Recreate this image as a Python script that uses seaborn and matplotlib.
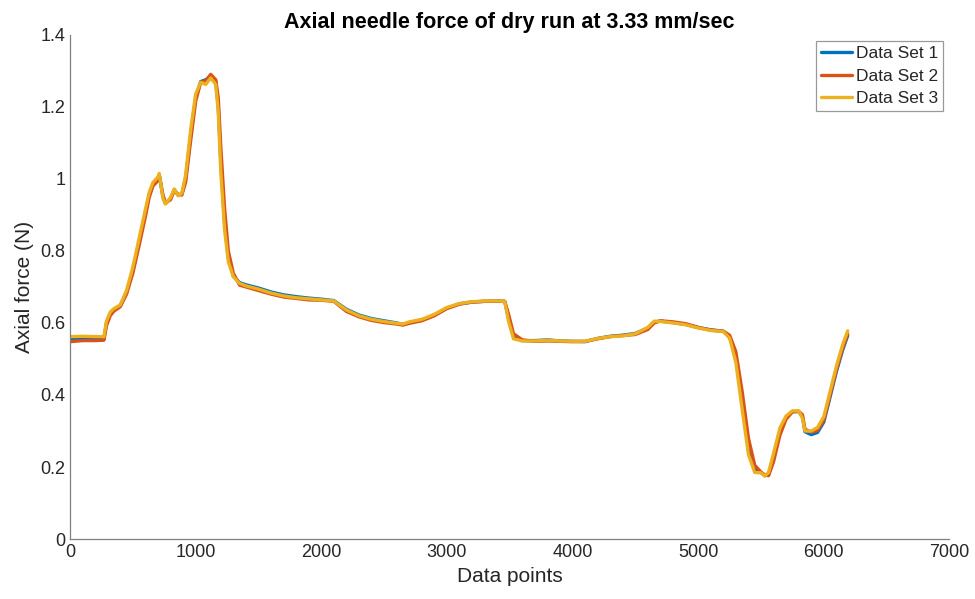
import pandas as pd
import numpy as np
import matplotlib.pyplot as plt
import seaborn as sns
from matplotlib.ticker import FuncFormatter

# Values
data_points = [0, 100, 200, 270, 290, 320, 350, 400, 450, 500, 550, 600, 630, 660, 700, 710,
               740, 760, 800, 830, 860, 890, 920, 960, 1000, 1040, 1080, 1120, 1160, 1180,
               1200, 1230, 1260, 1300, 1350, 1400, 1500, 1600, 1700, 1800, 1900, 2000, 2100,
               2200, 2300, 2400, 2500, 2600, 2650, 2700, 2800, 2900, 3000, 3100, 3200, 3300,
               3400, 3460, 3490, 3530, 3600, 3700, 3800, 3900, 4000, 4100, 4200, 4300, 4400,
               4500, 4600, 4650, 4700, 4800, 4900, 5000, 5100, 5200, 5250, 5300, 5350, 5400,
               5450, 5500, 5530, 5560, 5600, 5650, 5700, 5750, 5800, 5830, 5850, 5900, 5950,
               6000, 6050, 6100, 6150, 6190]

set1 = [0.555, 0.556, 0.555, 0.556, 0.600, 0.625, 0.637, 0.648, 0.685, 0.745, 0.825, 0.905,
        0.955, 0.985, 1.000, 1.012, 0.950, 0.932, 0.945, 0.970, 0.955, 0.958, 1.000, 1.120,
        1.225, 1.270, 1.275, 1.285, 1.270, 1.200, 1.050, 0.880, 0.780, 0.730, 0.712, 0.706,
        0.697, 0.686, 0.678, 0.673, 0.669, 0.666, 0.662, 0.638, 0.622, 0.612, 0.606, 0.600,
        0.596, 0.601, 0.608, 0.622, 0.641, 0.653, 0.658, 0.660, 0.661, 0.660, 0.615, 0.562,
        0.551, 0.551, 0.553, 0.550, 0.549, 0.548, 0.557, 0.563, 0.566, 0.571, 0.586, 0.603,
        0.605, 0.601, 0.596, 0.587, 0.581, 0.577, 0.562, 0.505, 0.385, 0.255, 0.192, 0.185,
        0.176, 0.180, 0.228, 0.298, 0.338, 0.354, 0.354, 0.340, 0.298, 0.290, 0.296, 0.325,
        0.395, 0.465, 0.525, 0.565]

set2 = [0.548, 0.551, 0.551, 0.552, 0.592, 0.620, 0.633, 0.645, 0.680, 0.738, 0.815, 0.895,
        0.948, 0.980, 0.995, 1.010, 0.955, 0.933, 0.942, 0.968, 0.957, 0.955, 0.990, 1.105,
        1.215, 1.268, 1.272, 1.290, 1.275, 1.225, 1.090, 0.920, 0.800, 0.738, 0.705, 0.700,
        0.690, 0.680, 0.672, 0.668, 0.664, 0.663, 0.660, 0.632, 0.617, 0.607, 0.601, 0.597,
        0.594, 0.599, 0.606, 0.620, 0.640, 0.652, 0.658, 0.660, 0.660, 0.660, 0.625, 0.570,
        0.553, 0.549, 0.550, 0.549, 0.548, 0.549, 0.556, 0.562, 0.565, 0.568, 0.582, 0.600,
        0.606, 0.603, 0.598, 0.588, 0.580, 0.577, 0.566, 0.520, 0.410, 0.280, 0.205, 0.186,
        0.178, 0.176, 0.215, 0.288, 0.333, 0.353, 0.355, 0.345, 0.305, 0.297, 0.302, 0.330,
        0.400, 0.470, 0.530, 0.570]

set3 = [0.562, 0.563, 0.562, 0.562, 0.605, 0.630, 0.640, 0.650, 0.690, 0.755, 0.835, 0.915,
        0.962, 0.990, 1.005, 1.015, 0.945, 0.930, 0.948, 0.972, 0.953, 0.960, 1.010, 1.135,
        1.235, 1.268, 1.262, 1.280, 1.262, 1.185, 1.020, 0.860, 0.770, 0.728, 0.710, 0.703,
        0.694, 0.683, 0.675, 0.670, 0.667, 0.664, 0.661, 0.636, 0.620, 0.610, 0.604, 0.599,
        0.597, 0.603, 0.610, 0.624, 0.643, 0.654, 0.659, 0.661, 0.661, 0.660, 0.605, 0.556,
        0.550, 0.550, 0.552, 0.550, 0.549, 0.549, 0.557, 0.562, 0.564, 0.570, 0.588, 0.605,
        0.604, 0.600, 0.595, 0.586, 0.579, 0.576, 0.558, 0.490, 0.360, 0.235, 0.185, 0.184,
        0.175, 0.185, 0.238, 0.308, 0.342, 0.356, 0.356, 0.335, 0.300, 0.300, 0.310, 0.340,
        0.410, 0.480, 0.540, 0.578]

set_names = ['Data Set 1', 'Data Set 2', 'Data Set 3']
colors = ['#0072BD', '#D95319', '#EDB120']

df = pd.concat([
    pd.DataFrame({'Data points': data_points, 'Axial force': vals, 'set': name})
    for name, vals in zip(set_names, [set1, set2, set3])
], ignore_index=True)

sns.set_theme(style="white")
plt.rcParams['font.family'] = ['Liberation Sans', 'DejaVu Sans']

fig = plt.figure(figsize=(9.75, 5.99), dpi=100)
ax = fig.add_axes([0.0718, 0.100, 0.902, 0.842])

sns.lineplot(data=df, x='Data points', y='Axial force', hue='set', palette=colors,
             linewidth=2.4, ax=ax, sort=False, estimator=None)

ax.set_xlim(0, 7000)
ax.set_ylim(0, 1.4)
ax.set_xticks(np.arange(0, 7001, 1000))
ax.set_yticks(np.arange(0, 1.41, 0.2))
ax.yaxis.set_major_formatter(FuncFormatter(lambda v, p: f'{v:g}'))

ax.set_xlabel('Data points', fontsize=15, color='#262626')
ax.set_ylabel('Axial force (N)', fontsize=15, color='#262626')
ax.set_title('Axial needle force of dry run at 3.33 mm/sec', fontsize=15.5,
             fontweight='bold', color='black', pad=5)

sns.despine(ax=ax)
for side in ['left', 'bottom']:
    ax.spines[side].set_color('#808080')
    ax.spines[side].set_linewidth(0.9)
ax.tick_params(direction='in', length=5, width=0.9, color='#808080', labelcolor='#262626',
               labelsize=13)

leg = ax.legend(loc='upper right', fontsize=12.5, frameon=True, fancybox=False,
                edgecolor='#808080', borderaxespad=0.35, handlelength=1.8,
                handletextpad=0.2, labelspacing=0.42, borderpad=0.3)
leg.get_frame().set_linewidth(0.9)

fig.savefig('out.png', dpi=100)
plt.close(fig)
